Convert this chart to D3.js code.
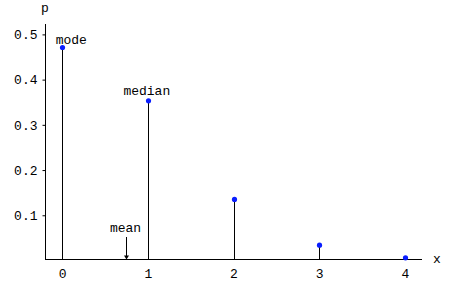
<!DOCTYPE html>
<html>
<head>
<meta charset="utf-8">
<script src="https://cdn.jsdelivr.net/npm/d3@7"></script>
<style>
  body { margin: 0; background: #fff; }
  text { font-family: "Liberation Mono", monospace; font-size: 13px; fill: #000; }
</style>
</head>
<body>
<div id="chart"></div>
<script>
// values
var xs = [0, 1, 2, 3, 4];
var probs = [0.471, 0.353, 0.135, 0.034, 0.006];
var yTicks = [0.1, 0.2, 0.3, 0.4, 0.5];
var xTicks = [0, 1, 2, 3, 4];
var meanValue = 0.75;
var axisOriginY = 0.003;

var width = 456, height = 282;

var svg = d3.select("#chart")
  .append("svg")
  .attr("width", width)
  .attr("height", height);

var x = d3.scaleLinear()
  .domain([-0.2, 4.2])
  .range([45, 422]);

var y = d3.scaleLinear()
  .domain([0, 0.523])
  .range([260.5, 24]);

var y0 = Math.round(y(axisOriginY)) + 0.5;

// y axis
var yAxis = svg.append("g")
  .attr("transform", "translate(" + (Math.round(x(-0.2)) + 0.5) + ",0)")
  .call(d3.axisLeft(y).tickValues(yTicks).tickSize(3).tickPadding(5).tickFormat(d3.format(".1f")));
yAxis.select(".domain").attr("d", "M0," + y0 + "V" + y(0.523));
yAxis.selectAll("text").style("font-family", null).style("font-size", null).attr("font-size", null).attr("font-family", null);

// x axis
var xAxis = svg.append("g")
  .attr("transform", "translate(0," + y0 + ")")
  .call(d3.axisBottom(x).tickValues(xTicks).tickSize(0).tickPadding(9).tickFormat(d3.format("d")));
xAxis.select(".domain").attr("d", "M" + x(-0.2) + ",0H" + x(4.2));
xAxis.selectAll("text").attr("font-size", null).attr("font-family", null);
svg.selectAll(".tick text").attr("fill", "#000");

// axis labels
svg.append("text").attr("x", 45).attr("y", 12).attr("text-anchor", "middle").text("p");
svg.append("text").attr("x", 437).attr("y", 263).attr("text-anchor", "middle").text("x");

// stems
svg.selectAll("line.stem")
  .data(xs)
  .enter().append("line")
  .attr("class", "stem")
  .attr("x1", d => Math.round(x(d)) + 0.5)
  .attr("x2", d => Math.round(x(d)) + 0.5)
  .attr("y1", y0)
  .attr("y2", (d, i) => y(probs[i]))
  .attr("stroke", "#000")
  .attr("stroke-width", 1);

// points
svg.selectAll("circle.pt")
  .data(xs)
  .enter().append("circle")
  .attr("class", "pt")
  .attr("cx", d => Math.round(x(d)) + 0.5)
  .attr("cy", (d, i) => y(probs[i]))
  .attr("r", 2.6)
  .attr("fill", "#0a1eff");

// annotations
svg.append("text")
  .attr("x", x(0) - 6.5)
  .attr("y", y(probs[0]) - 4)
  .text("mode");

svg.append("text")
  .attr("x", x(1) - 1)
  .attr("y", y(probs[1]) - 6)
  .attr("text-anchor", "middle")
  .text("median");

var mx = Math.round(x(meanValue)) + 0.5;
svg.append("text")
  .attr("x", mx - 1)
  .attr("y", 232)
  .attr("text-anchor", "middle")
  .text("mean");
svg.append("line")
  .attr("x1", mx).attr("x2", mx)
  .attr("y1", 237).attr("y2", y0 - 3)
  .attr("stroke", "#000");
svg.append("path")
  .attr("d", "M" + (mx - 2.5) + "," + (y0 - 4) + "L" + (mx + 2.5) + "," + (y0 - 4) + "L" + mx + "," + y0 + "Z")
  .attr("fill", "#000");
</script>
</body>
</html>
